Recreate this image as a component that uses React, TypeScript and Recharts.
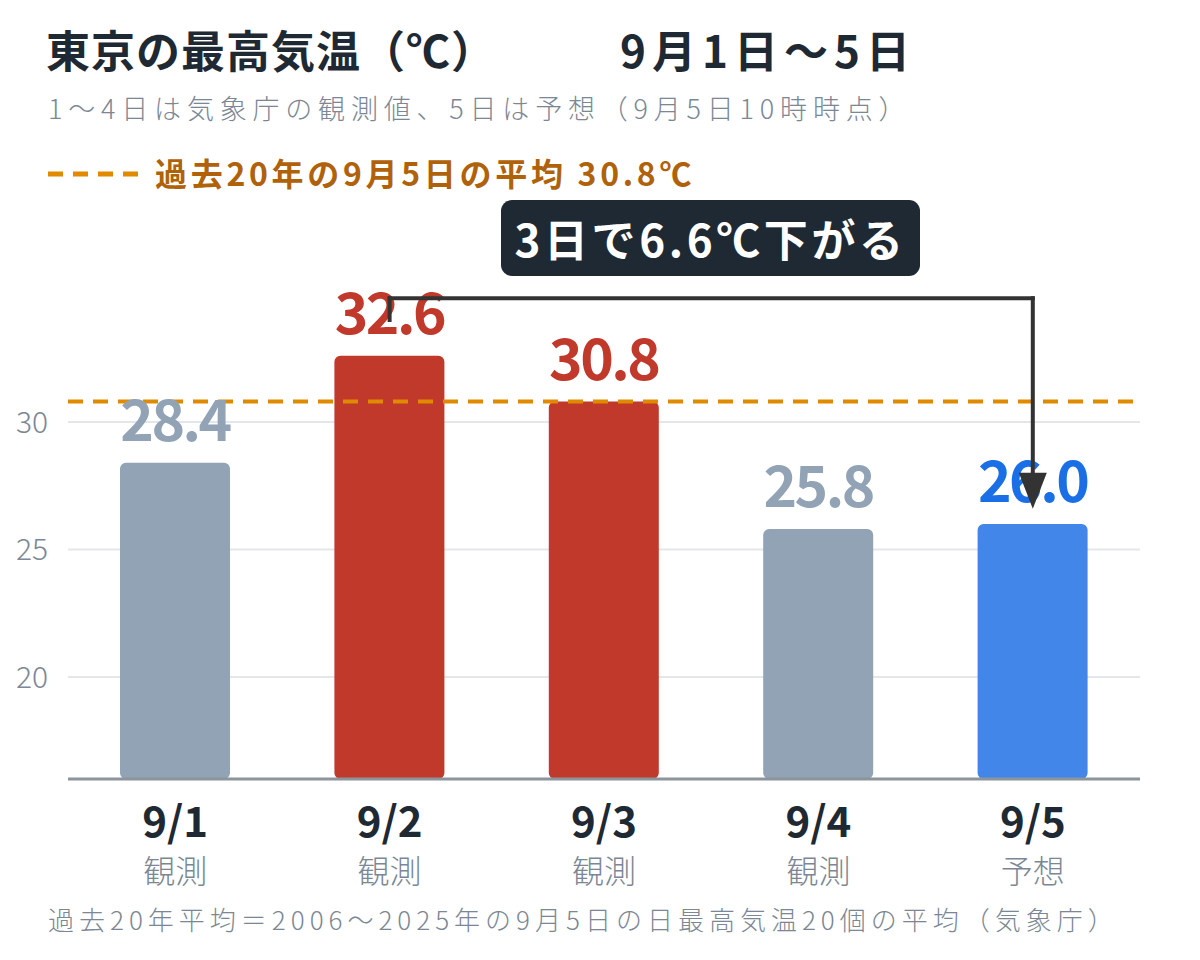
import React from "react";
import { BarChart, Bar, XAxis, YAxis, CartesianGrid, ReferenceLine, LabelList, Cell } from "recharts";

const days = ["9/1", "9/2", "9/3", "9/4", "9/5"];
const kinds = ["観測", "観測", "観測", "観測", "予想"];
const highs = [28.4, 32.6, 30.8, 25.8, 26.0];
const avg20 = 30.8;
const yTicks = [20, 25, 30];

// bracket arrow from 9/2 down to 9/5 (data coords)
const bracketFrom = "9/2";
const bracketTo = "9/5";
const bracketStartY = 34.0;
const bracketTopY = 34.85;
const bracketEndY = 26.6;

const FONT = "'Noto Sans CJK JP', 'Noto Sans', sans-serif";
const DARK = "#1f2933";
const GRAY_TEXT = "#7b8794";

const data = days.map((d, i) => ({ day: d, kind: kinds[i], high: highs[i] }));

function barColor(i) {
    if (kinds[i] === "予想") return "#4286ea";
    return highs[i] >= avg20 ? "#c0392b" : "#91a3b4";
}

function labelColor(i) {
    if (kinds[i] === "予想") return "#1a6fe6";
    return highs[i] >= avg20 ? "#c0392b" : "#91a3b4";
}

function DayTick({ x, y, payload, index }) {
    const i = payload.index ?? index;
    return (
        <g transform={`translate(${x},${y})`}>
            <text x={0} y={50} textAnchor="middle" fontFamily={FONT} fontWeight={700} fontSize={42} fill={DARK}>
                {payload.value}
            </text>
            <text x={0} y={96} textAnchor="middle" fontFamily={FONT} fontWeight={300} fontSize={32} fill={GRAY_TEXT}>
                {kinds[i]}
            </text>
        </g>
    );
}

function ValueLabel({ x, y, width, value, index }) {
    return (
        <text
            x={x + width / 2}
            y={y - 22}
            textAnchor="middle"
            fontFamily={FONT}
            fontWeight={700}
            fontSize={57}
            letterSpacing={-2.5}
            fill={labelColor(index)}
        >
            {Number(value).toFixed(1)}
        </text>
    );
}

function ArrowShape({ x1, y1, x2, y2 }) {
    const head = 36;
    const half = 14;
    return (
        <g>
            <line x1={x1} y1={y1} x2={x2} y2={y2 - head + 2} stroke="#333" strokeWidth={4} strokeLinecap="square" />
            <polygon points={`${x2 - half},${y2 - head} ${x2 + half},${y2 - head} ${x2},${y2}`} fill="#333" />
        </g>
    );
}

export default function App() {
    return (
        <div style={{ position: "absolute", left: 0, top: 0, width: 1200, height: 960, background: "#fff", fontFamily: FONT }}>
            <div style={{ position: "absolute", left: 46, top: 27, fontSize: 44, fontWeight: 700, color: DARK, lineHeight: 1, letterSpacing: 1, whiteSpace: "nowrap" }}>
                東京の最高気温（℃）
            </div>
            <div style={{ position: "absolute", left: 620, top: 27, fontSize: 44, fontWeight: 700, color: DARK, lineHeight: 1, letterSpacing: 6, whiteSpace: "nowrap" }}>
                9月1日～5日
            </div>
            <div style={{ position: "absolute", left: 48, top: 94, fontSize: 27, fontWeight: 300, color: GRAY_TEXT, lineHeight: 1, letterSpacing: 5.8, whiteSpace: "nowrap" }}>
                1～4日は気象庁の観測値、5日は予想（9月5日10時時点）
            </div>
            <svg style={{ position: "absolute", left: 48, top: 168 }} width={90} height={12}>
                <line x1={0} y1={6} x2={90} y2={6} stroke="#e08a00" strokeWidth={5} strokeDasharray="15 10" />
            </svg>
            <div style={{ position: "absolute", left: 155, top: 156, fontSize: 32, fontWeight: 700, color: "#b0620a", lineHeight: 1, letterSpacing: 3.7, whiteSpace: "nowrap" }}>
                過去20年の9月5日の平均 30.8℃
            </div>
            <div
                style={{
                    position: "absolute",
                    left: 501,
                    top: 200,
                    width: 419,
                    height: 76,
                    background: "#1f2933",
                    borderRadius: 11,
                    color: "#fff",
                    fontSize: 44,
                    fontWeight: 700,
                    lineHeight: "76px",
                    letterSpacing: 3.6,
                    textAlign: "center",
                    whiteSpace: "nowrap",
                }}
            >
                3日で6.6℃下がる
            </div>

            <div style={{ position: "absolute", left: 0, top: 0 }}>
                <BarChart width={1200} height={960} data={data} margin={{ top: 269, right: 60, left: 0, bottom: 40 }}>
                    <CartesianGrid vertical={false} horizontalValues={yTicks} stroke="#e3e7eb" strokeWidth={2} />
                    <YAxis
                        type="number"
                        domain={[16, 36]}
                        ticks={yTicks}
                        allowDataOverflow
                        width={68}
                        axisLine={false}
                        tickLine={false}
                        tickMargin={14}
                        tick={{ fontSize: 30, fontWeight: 300, fill: GRAY_TEXT, fontFamily: FONT }}
                    />
                    <XAxis
                        dataKey="day"
                        height={141}
                        tickLine={false}
                        axisLine={{ stroke: "#8c949c", strokeWidth: 3 }}
                        tick={<DayTick />}
                        interval={0}
                    />
                    <ReferenceLine y={avg20} stroke="#e08a00" strokeWidth={4} strokeDasharray="15 10" ifOverflow="visible" />
                    <Bar dataKey="high" barSize={110} radius={[6, 6, 6, 6]} isAnimationActive={false}>
                        {data.map((d, i) => (
                            <Cell key={d.day} fill={barColor(i)} />
                        ))}
                        <LabelList dataKey="high" content={<ValueLabel />} />
                    </Bar>
                    <ReferenceLine
                        segment={[{ x: bracketFrom, y: bracketStartY }, { x: bracketFrom, y: bracketTopY }]}
                        stroke="#333"
                        strokeWidth={4}
                        strokeLinecap="square"
                        ifOverflow="visible"
                        zIndex={2500}
                    />
                    <ReferenceLine
                        segment={[{ x: bracketFrom, y: bracketTopY }, { x: bracketTo, y: bracketTopY }]}
                        stroke="#333"
                        strokeWidth={4}
                        strokeLinecap="square"
                        ifOverflow="visible"
                        zIndex={2500}
                    />
                    <ReferenceLine
                        segment={[{ x: bracketTo, y: bracketTopY }, { x: bracketTo, y: bracketEndY }]}
                        ifOverflow="visible"
                        zIndex={2500}
                        shape={(p) => <ArrowShape {...p} />}
                    />
                </BarChart>
            </div>

            <div style={{ position: "absolute", left: 48, top: 906, fontSize: 26, fontWeight: 300, color: GRAY_TEXT, lineHeight: 1, letterSpacing: 5, whiteSpace: "nowrap" }}>
                過去20年平均＝2006～2025年の9月5日の日最高気温20個の平均（気象庁）
            </div>
        </div>
    );
}
